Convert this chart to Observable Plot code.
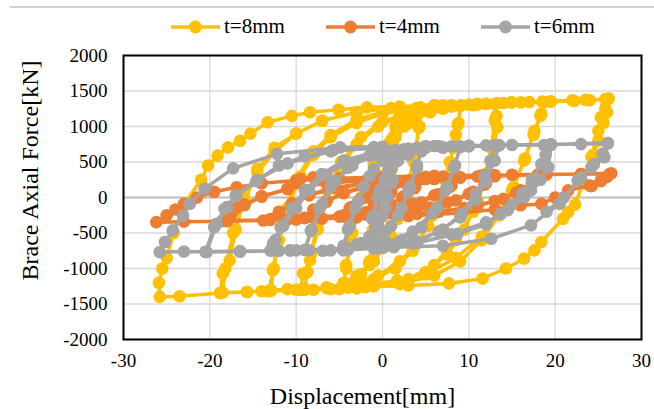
<!DOCTYPE html>
<html>
<head>
<meta charset="utf-8">
<script src="https://cdn.jsdelivr.net/npm/d3@7"></script>
<script src="https://cdn.jsdelivr.net/npm/@observablehq/plot@0.6"></script>
<style>
  body { margin: 0; background: #fff; font-family: "Liberation Serif", "Times New Roman", serif; }
  #wrap { position: relative; width: 654px; height: 409px; overflow: hidden; }
  #topline { position: absolute; left: 10px; right: 0; top: 6px; height: 1.5px; background: #d0d0d0; }
  #legend { position: relative; height: 40px; }
  .item { position: absolute; top: 14px; display: flex; align-items: center; font-family: "Liberation Serif", "Times New Roman", serif; font-size: 21px; color: #000; white-space: nowrap; }
  .item svg { margin-right: 4px; }
  #chart svg, #chart svg text { font-family: "Liberation Serif", "Times New Roman", serif; }
</style>
</head>
<body>
<div id="wrap">
  <div id="topline"></div>
  <div id="legend"></div>
  <div id="chart"></div>
</div>
<script>
const seriesNames = ["t=8mm", "t=4mm", "t=6mm"];
const seriesColors = ["#FFC000", "#ED7D31", "#A5A5A5"];
const xTicks = [-30, -20, -10, 0, 10, 20, 30];
const yTicks = [-2000, -1500, -1000, -500, 0, 500, 1000, 1500, 2000];

// [displacement mm, force kN]
const t8mm = [
  [0,0],[0.6,450],[1.5,850],[1.1,400],[0.5,-100],[-0.5,-600],[-1.5,-900],[-1.1,-450],[-0.4,100],[0.5,600],[1.5,880],[0.9,250],[-0.3,-450],[-1.5,-920],
  [-0.8,-250],[0,300],[1.2,750],[2.5,1000],[3.5,1130],[4.5,1240],
  [4.3,1000],[3.8,650],[3,200],[1.8,-300],[0.2,-700],[-1.5,-950],[-3,-1100],[-4.5,-1200],
  [-4.2,-1000],[-3.7,-650],[-3,-250],[-1.8,250],[-0.2,700],[1.5,1000],[3,1170],[4.4,1270],
  [4.2,980],[3.6,500],[2.5,-50],[1,-550],[-1,-900],[-2.5,-1080],[-4.5,-1220],
  [-4.2,-950],[-3.5,-500],[-2.5,0],[-1,450],[1,800],[3,1050],[5.5,1200],[7,1250],[9,1290],
  [8.8,1050],[8.5,880],[7.8,500],[6.8,50],[5.3,-400],[3.5,-750],[1.5,-1000],[-1,-1150],[-4,-1230],[-6.5,-1270],[-9,-1290],
  [-8.7,-1050],[-8.3,-800],[-7.5,-350],[-6.4,100],[-4.8,500],[-2.5,850],[0,1070],[3,1200],[6,1260],[9.1,1300],
  [8.7,1020],[8.2,700],[7.2,250],[5.8,-250],[4,-650],[2,-900],[-0.5,-1100],[-3.5,-1220],[-6.5,-1270],[-9.5,-1300],
  [-9.2,-1070],[-8.4,-885],[-7.5,-450],[-6.5,-50],[-5,400],[-3,750],[-0.5,1000],[2,1150],[5,1240],[8,1280],[10.5,1300],[13,1320],
  [13.2,1150],[13.3,990],[12.9,700],[12.2,350],[11,-50],[9.5,-450],[7.5,-800],[5,-1050],[2,-1200],[-2,-1260],[-6,-1290],[-10,-1300],[-12.9,-1310],
  [-12.7,-1025],[-12.2,-650],[-11.3,-200],[-10,250],[-8,650],[-6,880],[-3,1100],[0,1200],[4,1260],[8,1290],[11,1310],[13.3,1330],
  [13,1080],[12.6,700],[11.8,250],[10.5,-200],[8.5,-600],[6,-950],[3,-1150],[-1,-1250],[-5,-1290],[-9,-1300],[-13.2,-1320],
  [-12.6,-1000],[-12,-600],[-11,-150],[-9.5,300],[-8,600],[-6,850],[-3,1050],[0,1180],[4,1260],[8,1300],[12,1320],[14.9,1340],[18.7,1345],
  [18.4,1180],[17.6,940],[16.4,520],[15,100],[13.5,-250],[11.5,-600],[9,-900],[6,-1100],[2,-1220],[-3,-1280],[-8,-1300],[-13,-1315],[-15.7,-1330],[-18.8,-1345],
  [-18.5,-1070],[-17.7,-885],[-17,-450],[-16,0],[-14.5,400],[-12.5,700],[-10,900],[-7,1080],[-3,1200],[1,1260],[6,1300],[11,1320],[15,1340],[18.5,1350],
  [18.3,1150],[17.5,880],[16.5,550],[15.2,150],[13.7,-200],[11.5,-550],[8.5,-850],[5,-1080],[1.7,-1170],[-4,-1270],[-9.5,-1300],[-14,-1320],[-18.5,-1340],
  [-18.2,-1000],[-17.3,-500],[-16,-50],[-14.5,350],[-12.5,650],[-10,900],[-7,1080],[-3,1200],[2,1270],[7,1300],[12,1320],[16,1340],[19.5,1350],[22.2,1360],[24,1370],[26.1,1390],
  [25.8,1250],[25.3,1130],[25,940],[24.2,570],[23.2,200],[22.3,-100],[21.5,-206],[20.9,-300],[18.4,-627],[17.6,-745],[16.4,-860],[14.3,-1000],[11.6,-1140],[7.7,-1210],[3,-1240],[-2,-1260],[-6.4,-1280],[-11,-1290],[-13,-1306],[-15.7,-1330],[-18.8,-1344],[-23.5,-1390],[-25.8,-1400],
  [-25.9,-1200],[-25.5,-1000],[-25,-850],[-24.2,-500],[-23,-100],[-21,250],[-20.2,450],[-19.1,590],[-17.9,706],[-16.5,800],[-15.3,900],[-13.3,1060],[-10.5,1150],[-8.4,1200],[-5.1,1235],[-1.8,1270],[2,1280],[6,1300],[10,1310],[14,1330],[17,1345],[19.5,1355],[22,1370],[23.5,1375],[25.8,1385],[26.2,1395],
  [26,1200],[25.6,1050],[25,800],[24.4,600]
];

const t4mm = [
  [0,0],[0.5,120],[1.5,200],[1,80],[0,-80],[-1.5,-200],[-1,-80],[0,80],[1.5,210],[0.8,50],[-0.3,-100],[-1.5,-210],
  [-0.5,-40],[0.8,120],[2.5,210],[4.5,260],[3.8,150],[2.5,20],[1,-100],[-1.5,-200],[-4.5,-260],
  [-3.8,-150],[-2.5,-20],[-1,100],[1.5,200],[4.5,265],[3.7,130],[2.3,0],[0.5,-120],[-2,-210],[-4.5,-265],
  [-3.5,-130],[-2,0],[0,120],[3,220],[6,260],[9,280],[8,170],[6.5,50],[4.5,-70],[1.5,-170],[-3,-240],[-9,-285],
  [-8,-170],[-6.5,-50],[-4.5,70],[-1.5,170],[3,240],[9,285],[7.8,150],[6,30],[3.5,-90],[0,-190],[-4.5,-250],[-9,-290],
  [-8,-180],[-6.5,-60],[-4.5,60],[-1.5,160],[3,230],[8,270],[13,300],[12,200],[10.5,80],[8.5,-40],[5.5,-140],[1,-220],[-5,-270],[-13,-305],
  [-12,-200],[-10.5,-80],[-8.5,40],[-5.5,140],[-1,220],[5,265],[13,305],[11.8,180],[10,50],[7.5,-70],[4,-170],[-2,-240],[-8,-285],[-13,-310],
  [-12,-210],[-10.5,-90],[-8.5,30],[-5.5,130],[-1,210],[5,260],[11,295],[18.5,320],[17.5,220],[16,100],[14,-20],[11,-120],[6.5,-200],[0,-260],[-7,-295],[-13,-315],[-18.5,-325],
  [-17.5,-220],[-16,-100],[-14,20],[-11,120],[-6.5,200],[0,260],[7,295],[13,315],[18.5,325],[17.3,200],[15.5,70],[13,-50],[9.5,-150],[4,-230],[-3,-280],[-10,-310],[-18.5,-330],
  [-17.5,-230],[-16.9,-145],[-16,-110],[-14,10],[-11,120],[-9.5,262],[-8,285],[-6.5,210],[-1,260],[5,290],[11.4,310],[15,320],[19,325],[23,330],[26.3,330],
  [25.3,240],[24,170],[21.5,100],[20,0],[18.4,-90],[16,-110],[13,-170],[9,-220],[3,-260],[-4,-290],[-11,-310],[-13.8,-323],[-18,-335],[-23,-340],[-26.2,-347],
  [-25,-250],[-24,-170],[-23,-90],[-21.5,0],[-19.5,80],[-16.9,145],[-14,200],[-10,240],[-5,270],[0,290],[6,305],[12,315],[18,325],[23,330],[26.5,340],
  [26,290],[25.3,230],[24.2,160]
];

const t6mm = [
  [0,0],[0.4,200],[1,400],[1.5,500],[1.2,250],[0.6,0],[0,-250],[-0.8,-450],[-1.5,-550],[-1.2,-300],[-0.6,0],[0.2,250],[0.9,450],[1.5,520],[1,200],[0.3,-150],[-0.6,-400],[-1.5,-560],
  [-1,-250],[-0.3,100],[0.6,350],[1.8,520],[3,600],[4.5,650],[4,450],[3.2,150],[2.2,-150],[1,-400],[-0.8,-570],[-2.5,-640],[-4.5,-680],
  [-4,-450],[-3.2,-150],[-2.2,150],[-1,400],[0.8,570],[2.5,640],[4.5,670],[4,420],[3,80],[1.8,-250],[0.3,-480],[-1.5,-610],[-3,-660],[-4.5,-690],
  [-3.8,-400],[-2.8,-50],[-1.5,300],[0,520],[2,640],[4.5,690],[7,700],[9,710],[8.4,450],[7.5,150],[6.3,-150],[4.5,-420],[2.2,-600],[-1,-690],[-4.5,-720],[-9,-735],
  [-8.3,-470],[-7.3,-150],[-6,150],[-4,420],[-1.5,590],[1.5,670],[5,700],[9,715],[8.3,420],[7.3,100],[5.8,-220],[3.5,-480],[0.5,-640],[-4,-720],[-9,-740],
  [-8.2,-450],[-7,-100],[-5.5,230],[-3.5,450],[-1,600],[2.5,680],[7,710],[10,720],[12.9,730],[12.5,520],[11.8,300],[10.8,50],[9.2,-230],[7,-450],[4,-620],[0,-710],[-4.5,-735],[-8.5,-745],[-12.7,-745],
  [-12.4,-600],[-11.5,-400],[-10,-150],[-8.5,100],[-6.5,320],[-4,500],[-1,620],[3,690],[8,720],[13.5,735],[13,520],[12,220],[10.8,-30],[9,-280],[6.5,-480],[3.5,-630],[-0.5,-710],[-6.9,-750],[-10.7,-745],[-13,-748],
  [-12.7,-650],[-11.8,-420],[-10.5,-150],[-9,100],[-7,330],[-4.5,520],[-1,640],[4,700],[9,720],[13.5,735],[18.7,740],[19.5,745],
  [18.9,600],[18.4,470],[17.3,250],[16.2,60],[15,-100],[13.7,-230],[12,-380],[8.7,-510],[3.6,-650],[-1,-720],[-6,-745],[-12,-750],[-16.5,-760],[-20.4,-768],
  [-19.2,-370],[-18,-136],[-16.9,28],[-14.6,230],[-12,450],[-9,580],[-5.7,670],[-1,710],[5,725],[10,730],[15,740],[19.5,750],
  [19.2,426],[18.3,250],[17.2,100],[16.4,0],[14.5,-180],[12,-350],[8,-520],[4,-640],[0,-700],[-4.5,-745],[-10.7,-745],[-16.5,-755],[-20.5,-765],
  [-19.5,-420],[-18.3,-160],[-17,30],[-14.5,250],[-11,480],[-6,650],[0,705],[6,725],[13,735],[19.5,745],[23,752],[26.1,760],
  [25.7,566],[24.2,425],[22.6,240],[20.5,-90],[17.2,-390],[12.6,-580],[7,-680],[1.3,-700],[-4,-735],[-10,-745],[-16.5,-760],[-20.4,-768],[-23,-760],[-25.8,-768],
  [-25.2,-627],[-24.3,-463],[-23.1,-253],[-22.3,-90],[-20.6,126],[-17.3,410],[-12.2,615],[-4.9,706],[0,715],[6.5,725],[12,735],[19.5,745],[26.1,770],
  [25.5,620],[24.5,470],[23,280],[21,0],[19,-200]
];

const seriesData = [t8mm, t4mm, t6mm];

// legend
const legend = document.getElementById("legend");
seriesNames.forEach((name, i) => {
  const item = document.createElement("div");
  item.className = "item";
  item.style.left = (171 + i * 155) + "px";
  item.innerHTML = `<svg width="49" height="14"><line x1="0" x2="49" y1="7" y2="7" stroke="${seriesColors[i]}" stroke-width="3.5"/><circle cx="24.5" cy="7" r="6.5" fill="${seriesColors[i]}"/></svg><span>${name}</span>`;
  legend.appendChild(item);
});

const seriesMarks = seriesData.flatMap((arr, i) => {
  const rows = arr.map(([d, f]) => ({d, f}));
  return [
    Plot.line(rows, {x: "d", y: "f", stroke: seriesColors[i], strokeWidth: 3.5, strokeLinejoin: "round", curve: "linear"}),
    Plot.dot(rows, {x: "d", y: "f", r: 6.3, fill: seriesColors[i], stroke: "none"})
  ];
});

const chart = Plot.plot({
  width: 654,
  height: 369,
  marginLeft: 123,
  marginRight: 13,
  marginTop: 15,
  marginBottom: 70,
  style: {fontFamily: "'Liberation Serif', 'Times New Roman', serif", fontSize: "19px", color: "#000", background: "transparent", overflow: "visible"},
  x: {domain: [-30, 30], label: null},
  y: {domain: [-2000, 2000], label: null},
  marks: [
    Plot.gridX(xTicks, {stroke: "#d9d9d9", strokeOpacity: 1, strokeWidth: 1.3}),
    Plot.gridY(yTicks, {stroke: "#d9d9d9", strokeOpacity: 1, strokeWidth: 1.3}),
    Plot.ruleY([0], {stroke: "#bfbfbf", strokeWidth: 2}),
    Plot.axisX({ticks: xTicks, tickSize: 0, tickPadding: 14, tickFormat: d => String(d), label: null}),
    Plot.axisY({ticks: yTicks, tickSize: 0, tickPadding: 16, tickFormat: d => String(d), label: null}),
    ...seriesMarks,
    Plot.frame({stroke: "#000", strokeWidth: 2}),
    Plot.text(["Displacement[mm]"], {text: d => d, frameAnchor: "bottom", textAnchor: "middle", dx: -20, dy: 64, lineAnchor: "bottom", fontSize: 24}),
    Plot.text(["Brace Axial Force[kN]"], {text: d => d, frameAnchor: "left", textAnchor: "middle", rotate: -90, dx: -86, dy: -27, lineAnchor: "bottom", fontSize: 24})
  ]
});
document.getElementById("chart").appendChild(chart);
</script>
</body>
</html>
